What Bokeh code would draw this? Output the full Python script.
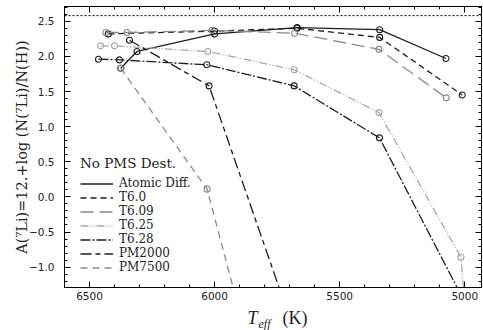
from bokeh.plotting import figure
from bokeh.layouts import column
from bokeh.models import (LinearAxis, SingleIntervalTicker, Span, Legend, LegendItem,
                          Label, CustomJSTickFormatter, Range1d)
from bokeh.embed import file_html
from bokeh.resources import INLINE

# ---- data ----
atomic_T = [6375, 6310, 6000, 5670, 5340, 5075]
atomic_A = [1.83, 2.07, 2.32, 2.41, 2.38, 1.97]

t60_T = [6425, 6000, 5670, 5340, 5010]
t60_A = [2.32, 2.36, 2.40, 2.27, 1.45]

t609_T = [6435, 6350, 6010, 5680, 5343, 5074]
t609_A = [2.34, 2.34, 2.37, 2.33, 2.10, 1.41]

t625_T = [6455, 6400, 6027, 5682, 5343, 5015, 4990]
t625_A = [2.15, 2.15, 2.07, 1.81, 1.20, -0.86, -2.00]

t628_T = [6464, 6380, 6031, 5682, 5341, 5000]
t628_A = [1.96, 1.95, 1.88, 1.58, 0.84, -1.50]

pm2000_T = [6340, 6022, 5680]
pm2000_A = [2.23, 1.58, -1.93]

pm7500_T = [6375, 6030, 5900]
pm7500_A = [1.83, 0.11, -1.64]

meteoritic_A = 2.58

labels = ["Atomic Diff.", "T6.0", "T6.09", "T6.25", "T6.28", "PM2000", "PM7500"]

BLACK = "#1e1e1e"
GRAY = "#8a8a8a"
LGRAY = "#a8a8a8"

series = [
    (labels[0], atomic_T, atomic_A, BLACK, "solid"),
    (labels[1], t60_T, t60_A, BLACK, "6 4"),
    (labels[2], t609_T, t609_A, GRAY, "13 6"),
    (labels[3], t625_T, t625_A, LGRAY, "8 2 1 2 1 2"),
    (labels[4], t628_T, t628_A, BLACK, "10 2 2 2"),
    (labels[5], pm2000_T, pm2000_A, BLACK, "11 4 5 4"),
    (labels[6], pm7500_T, pm7500_A, GRAY, "7 5"),
]

p = figure(width=482, height=304, x_range=Range1d(6600, 4933), y_range=Range1d(-1.29, 2.71),
           output_backend="svg", toolbar_location=None,
           min_border_left=64, min_border_right=1, min_border_top=6, min_border_bottom=17)
p.grid.visible = False
p.outline_line_color = "black"
p.background_fill_color = "white"
p.border_fill_color = "white"

TICK_FONT = "DejaVu Sans"
SERIF = "DejaVu Serif"

minus_fmt = CustomJSTickFormatter(code="return tick.toFixed(1).replace('-', '\u2212');")
blank_fmt = CustomJSTickFormatter(code="return '';")

def style_axis(ax):
    ax.major_tick_in = 6
    ax.major_tick_out = 0
    ax.minor_tick_in = 3
    ax.minor_tick_out = 0
    ax.axis_line_color = "black"
    ax.major_tick_line_color = "black"
    ax.minor_tick_line_color = "black"
    ax.major_label_text_font = TICK_FONT
    ax.major_label_text_font_size = "10.5px"
    ax.major_label_text_color = "#222222"

# bottom x axis
p.xaxis.ticker = SingleIntervalTicker(interval=500, num_minor_ticks=5)
style_axis(p.xaxis[0])
p.xaxis.major_label_standoff = 4

# left y axis
p.yaxis.ticker = SingleIntervalTicker(interval=0.5, num_minor_ticks=5)
p.yaxis.formatter = minus_fmt
style_axis(p.yaxis[0])
p.yaxis.major_label_standoff = 10
p.yaxis.axis_label = "A(\u2077Li)=12.+log (N(\u2077Li)/N(H))"
p.yaxis.axis_label_text_font = SERIF
p.yaxis.axis_label_text_font_size = "14.5px"
p.yaxis.axis_label_text_font_style = "normal"
p.yaxis.axis_label_standoff = -4
p.yaxis.axis_label_text_color = "#222222"

top = LinearAxis(ticker=SingleIntervalTicker(interval=500, num_minor_ticks=5), formatter=blank_fmt)
style_axis(top)
top.major_label_standoff = 0
p.add_layout(top, "above")
right = LinearAxis(ticker=SingleIntervalTicker(interval=0.5, num_minor_ticks=5), formatter=blank_fmt)
style_axis(right)
right.major_label_standoff = 0
p.add_layout(right, "right")

p.add_layout(Span(location=meteoritic_A, dimension="width", line_color="black",
                  line_dash="2 2", line_width=1))

items = []
for name, T, A, col, dash in series:
    r = p.line(T, A, line_color=col, line_dash=dash, line_width=1.3)
    p.scatter(T, A, marker="circle", size=6, fill_color=None, line_color=col, line_width=1.1)
    items.append(LegendItem(label=name, renderers=[r]))

legend = Legend(items=items, title="No PMS Dest.", location=(16, 13),
                title_text_font=SERIF, title_text_font_size="13.5px",
                title_text_font_style="normal", title_standoff=5, title_text_color="#222222",
                label_text_font=SERIF, label_text_font_size="12px", label_text_color="#222222",
                label_height=13, glyph_height=13, glyph_width=33, label_standoff=6,
                spacing=0, padding=0, margin=0,
                border_line_color=None, background_fill_alpha=0)
p.add_layout(legend)

# x-axis title: T_eff (K), in a strip below the plot (its frame is aligned with the main frame)
p2 = figure(width=482, height=26, x_range=Range1d(0, 1), y_range=Range1d(0, 1),
            x_axis_type=None, y_axis_type=None,
            output_backend="svg", toolbar_location=None, min_border=0)
p2.grid.visible = False
p2.outline_line_color = None
p2.add_layout(Label(x=183, y=3, x_units="screen", y_units="screen", text="T",
                    text_font="Liberation Serif", text_font_style="italic",
                    text_font_size="18px", text_color="#222222"))
p2.add_layout(Label(x=194, y=0, x_units="screen", y_units="screen", text="eff",
                    text_font="Liberation Serif", text_font_style="italic",
                    text_font_size="12px", text_color="#222222"))
p2.add_layout(Label(x=218, y=3, x_units="screen", y_units="screen", text="(K)",
                    text_font="Liberation Serif", text_font_size="18px", text_color="#222222"))

layout = column(p, p2, spacing=0)
open("out.html", "w").write(file_html(layout, INLINE))
